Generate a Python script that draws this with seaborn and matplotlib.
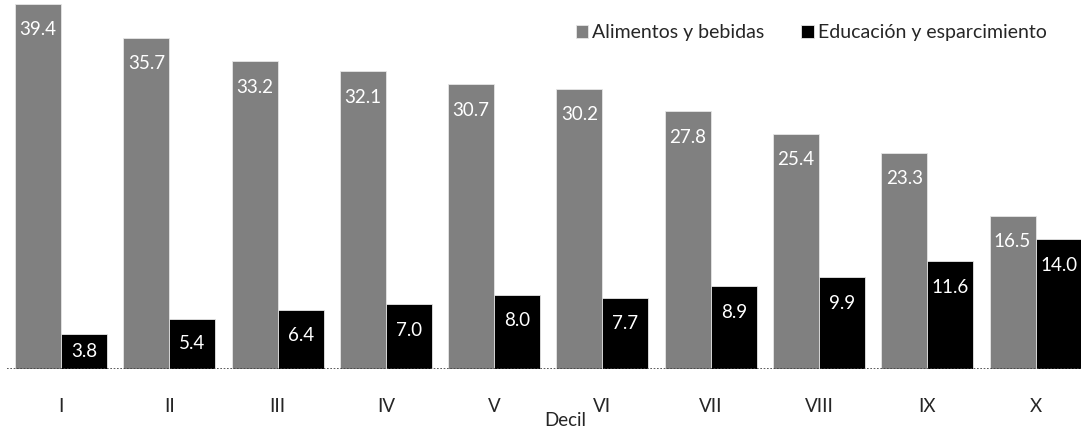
import pandas as pd
import matplotlib
matplotlib.use("Agg")
import matplotlib.pyplot as plt
import seaborn as sns

# --------------------------------------------------
# Data
# --------------------------------------------------

deciles = ["I", "II", "III", "IV", "V", "VI", "VII", "VIII", "IX", "X"]

alimentos = [39.4, 35.7, 33.2, 32.1, 30.7, 30.2, 27.8, 25.4, 23.3, 16.5]
educacion = [3.8, 5.4, 6.4, 7.0, 8.0, 7.7, 8.9, 9.9, 11.6, 14.0]

series_names = ["Alimentos y bebidas", "Educación y esparcimiento"]
series_colors = ["#808080", "#000000"]

df = pd.DataFrame({
    "decil": deciles * 2,
    "valor": alimentos + educacion,
    "serie": [series_names[0]] * len(deciles) + [series_names[1]] * len(deciles),
})

# --------------------------------------------------
# Plot
# --------------------------------------------------

sns.set_style("white")
plt.rcParams["font.family"] = ["Lato", "DejaVu Sans"]

fig = plt.figure(figsize=(10.81, 4.29), dpi=100)
ax = fig.add_axes([7 / 1081, 60 / 429, 1 - 7 / 1081, 369 / 429])

sns.barplot(
    data=df,
    x="decil",
    y="valor",
    hue="serie",
    order=deciles,
    hue_order=series_names,
    palette=series_colors,
    width=0.85,
    gap=0,
    saturation=1,
    edgecolor="#e6e6e6",
    linewidth=0.6,
    ax=ax,
)

# value labels inside the bars
for container in ax.containers:
    for bar in container:
        h = bar.get_height()
        y = max(h - 2.8, h / 2)
        ax.text(
            bar.get_x() + bar.get_width() / 2,
            y,
            f"{h:.1f}",
            color="white",
            ha="center",
            va="center",
            fontsize=13.5,
        )

ax.set_xlim(-0.5, 9.42)
ax.set_ylim(0, 39.8)

for side in ["top", "right", "left", "bottom"]:
    ax.spines[side].set_visible(False)

ax.axhline(0, color="#404040", lw=1.2, ls=(0, (1, 1)), zorder=5)

ax.set_yticks([])
ax.set_ylabel("")
ax.set_xlabel("")
ax.tick_params(axis="x", length=0, pad=21, labelsize=13.5)

fig.text(565 / 1081, 1 - 421 / 429, "Decil", ha="center", va="center",
         fontsize=13.5)

ax.legend(
    loc="upper right",
    bbox_to_anchor=(1.0 - 10 / 1074, 1.0),
    ncol=2,
    frameon=False,
    fontsize=14,
    handlelength=0.65,
    handleheight=0.65,
    handletextpad=0.2,
    columnspacing=1.9,
    borderaxespad=0.85,
    title=None,
)

plt.savefig("out.png", dpi=100)
plt.close()
